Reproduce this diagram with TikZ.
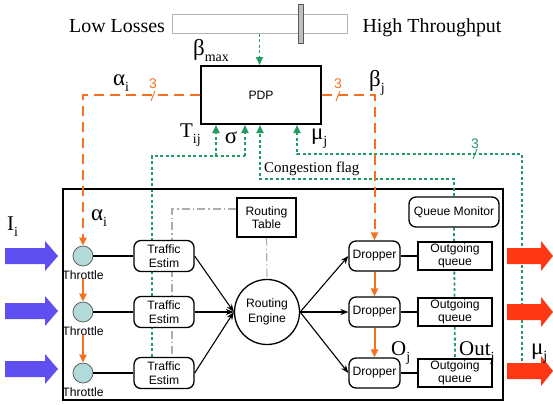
\documentclass[tikz,border=0pt]{standalone}
\usepackage{fontspec}
\setmainfont{Liberation Serif}
\newfontfamily\arialf{Liberation Sans}
\usetikzlibrary{arrows.meta,backgrounds}
\definecolor{orng}{RGB}{245,112,32}
\definecolor{grn}{RGB}{35,155,100}
\definecolor{blu}{RGB}{95,78,240}
\definecolor{rd}{RGB}{255,55,20}
\definecolor{thrfill}{RGB}{178,218,218}
\newcommand{\sublab}[2]{#1\raisebox{-6bp}{\fontsize{14}{14}\selectfont #2}}
\newcommand{\gk}[1]{{\fontsize{23}{25}\selectfont #1}}
\begin{document}
\begin{tikzpicture}[x=1bp,y=-1bp,
  sbox/.style={draw=black, line width=1.6bp, fill=white, inner sep=0pt, font=\arialf\fontsize{12.2}{13.5}\selectfont, align=center},
  rbox/.style={draw=black, line width=1.3bp, rounded corners=7bp, fill=white, inner sep=0pt, font=\arialf\fontsize{12.2}{14.5}\selectfont, align=center},
  sans/.style={font=\arialf\fontsize{12.2}{13}\selectfont, inner sep=0pt},
  biglab/.style={font=\fontsize{21}{23}\selectfont, inner sep=0pt},
  thrcirc/.style={circle, draw=gray!75!black, fill=thrfill, minimum size=20bp, inner sep=0pt, line width=0.8bp},
  oline/.style={draw=orng, line width=2bp, dash pattern=on 10bp off 6bp},
  osolid/.style={draw=orng, line width=2bp},
  otip/.style={-{Triangle[length=8bp,width=7bp]}},
  gline/.style={draw=grn, line width=1.8bp, dash pattern=on 3bp off 2.5bp},
  gtip/.style={-{Triangle[length=8bp,width=7bp]}},
  gdd/.style={draw=gray!65, line width=1.1bp, dash pattern=on 8bp off 3bp on 1.5bp off 3bp},
  blk/.style={draw=black, line width=1.1bp},
  btip/.style={-{Stealth[length=8bp,width=6bp]}}
]
\useasboundingbox (0,0) rectangle (553,404);

% slider
\node[draw=gray!60, line width=1bp, fill=white, minimum width=175bp, minimum height=19bp, inner sep=0pt] (sl) at (259.5,23.5) {};
\node[draw=gray!70!black, fill=gray!50, line width=0.8bp, minimum width=5bp, minimum height=39bp, inner sep=0pt] (knob) at (300.5,23.5) {};
\node[font=\fontsize{20}{22}\selectfont, inner sep=0pt, anchor=base] (low) at (117,32) {Low Losses};
\node[font=\fontsize{20}{22}\selectfont, inner sep=0pt, anchor=base] (high) at (432,32) {High Throughput};

% PDP
\node[sbox, line width=2bp, minimum width=120bp, minimum height=58bp] (pdp) at (261,95) {PDP};

% big frame
\node[draw=black, line width=1.8bp, minimum width=440bp, minimum height=211bp, inner sep=0pt] (frame) at (283,294.5) {};

% rows
\foreach \i/\y in {1/256,2/312,3/373}{
  \node[thrcirc] (t\i) at (83,\y) {};
  \node[sans, anchor=north] (tl\i) at (83,\y+14) {Throttle};
  \node[rbox, minimum width=60bp, minimum height=31bp] (te\i) at (164,\y) {Traffic\\Estim};
  \node[rbox, minimum width=51bp, minimum height=30bp] (d\i) at (374.5,\y) {Dropper};
  \node[sbox, line width=2bp, minimum width=74bp, minimum height=28bp] (q\i) at (455,\y) {Outgoing\\queue};
}
\node[rbox, minimum width=90bp, minimum height=30bp] (qm) at (454,212) {Queue Monitor};
\node[sbox, line width=1.4bp, minimum width=59bp, minimum height=39bp] (rt) at (266.5,217.5) {Routing\\Table};
\node[circle, draw=black, line width=1.3bp, fill=white, minimum size=65bp, inner sep=0pt, font=\arialf\fontsize{12.2}{14.5}\selectfont, align=center] (re) at (267,312) {Routing\\Engine};

% connectors behind nodes
\begin{pgfonlayer}{background}
  \draw[gdd] ([yshift=8.5bp]rt.west) -| ([xshift=8bp]te3.north);
  \draw[gdd] (rt.south) -- (re.north);
  \draw[gline] ([xshift=-12bp]te3.north) |- (245,156);
  \draw[gline] (qm.south) -- (q3.north);
\end{pgfonlayer}

% green feedback
\coordinate (tj) at (216,156);
\coordinate (sg) at (245,156);
\coordinate (cf) at (260,179);
\coordinate (mustart) at (522,372);
\coordinate (mc) at (297,154);
\draw[gline,gtip] (sl.south) -- (sl.south |- pdp.north);
\draw[gline,gtip] (tj) -- (tj |- pdp.south);
\draw[gline,gtip] (sg) -- (sg |- pdp.south);
\draw[gline,gtip] (qm.north) |- (cf) -- (cf |- pdp.south);
\draw[gline,gtip] (mustart) |- (mc) -- (mc |- pdp.south);
\draw[grn, line width=0.9bp] (473,159) -- (477,149);
\node[sans, font=\arialf\fontsize{14}{14}\selectfont, text=grn, anchor=base] (g3) at (475,148) {3};

% orange control
\draw[oline,otip] (pdp.west) -| (t1.north);
\draw[oline,otip] (pdp.east) -| (d1.north);
\draw[orng, line width=0.9bp] (151,101) -- (155,91);
\draw[orng, line width=0.9bp] (336,101) -- (340,91);
\node[sans, font=\arialf\fontsize{14}{14}\selectfont, text=orng, anchor=base] (o3l) at (153,88) {3};
\node[sans, font=\arialf\fontsize{14}{14}\selectfont, text=orng, anchor=base] (o3r) at (338,88) {3};
\draw[osolid,otip] (tl1.south) -- (t2.north);
\draw[osolid,otip] (tl2.south) -- (t3.north);
\draw[osolid,otip] (d1.south) -- (d2.north);
\draw[osolid,otip] (d2.south) -- (d3.north);

% black data path
\foreach \i in {1,2,3}{
  \draw[blk] (t\i.east) -- (te\i.west);
  \draw[blk,btip] (te\i.east) -- (re.west);
  \draw[blk,btip] (re.east) -- (d\i.west);
  \draw[blk] (d\i.east) -- (q\i.west);
}

% block arrows
\foreach \y in {256,311,369}{
  \fill[blu] (5,\y-8) -- (45,\y-8) -- (45,\y-15) -- (58,\y) -- (45,\y+15) -- (45,\y+8) -- (5,\y+8) -- cycle;
}
\foreach \y in {256,312,371}{
  \fill[rd] (507,\y-8) -- (541,\y-8) -- (541,\y-15) -- (553,\y) -- (541,\y+15) -- (541,\y+8) -- (507,\y+8) -- cycle;
}

% labels
\node[biglab, anchor=base west] (bmax) at (193,55) {\sublab{\gk{β}}{max}};
\node[biglab, anchor=base west] (ai) at (113,85) {\sublab{\gk{α}}{i}};
\node[biglab, anchor=base west] (bj) at (369,86) {\sublab{\gk{β}}{j}};
\node[biglab, anchor=base west] (tij) at (180,137) {\sublab{T}{ij}};
\node[biglab, anchor=base] (sig) at (231,143) {\gk{σ}};
\node[biglab, anchor=base west] (muj) at (311,139) {\sublab{\gk{μ}}{j}};
\node[font=\fontsize{15}{15}\selectfont, inner sep=0pt, anchor=base west] (cflag) at (264,172) {Congestion flag};
\node[biglab, anchor=base west] (ii) at (7,230) {\sublab{I}{i}};
\node[biglab, anchor=base west] (ai2) at (91,220) {\sublab{\gk{α}}{i}};
\node[biglab, anchor=base west] (oj) at (391,355) {\sublab{O}{j}};
\node[biglab, anchor=base west] (outj) at (459,355) {\sublab{Out}{j}};
\node[biglab, anchor=base west] (muj2) at (531,354) {\sublab{\gk{μ}}{j}};
\end{tikzpicture}
\end{document}
